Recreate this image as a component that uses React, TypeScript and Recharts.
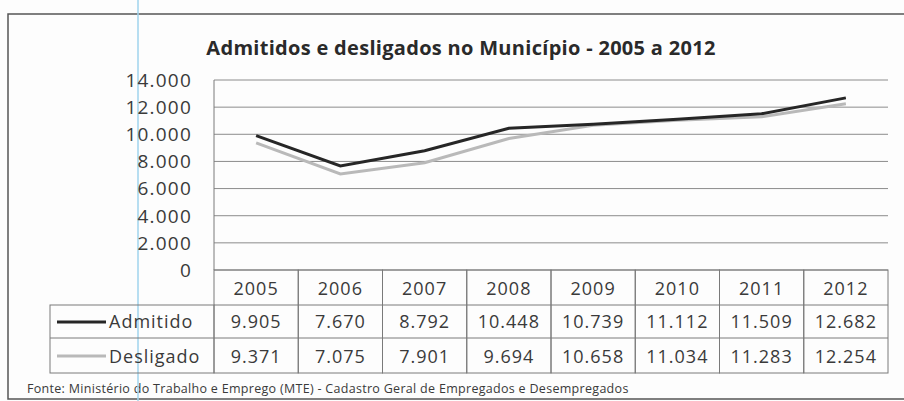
import React from 'react';
import { LineChart, Line, XAxis, YAxis, CartesianGrid } from 'recharts';

const years = ['2005', '2006', '2007', '2008', '2009', '2010', '2011', '2012'];
const admitidos = [9905, 7670, 8792, 10448, 10739, 11112, 11509, 12682];
const desligados = [9371, 7075, 7901, 9694, 10658, 11034, 11283, 12254];
const yTicks = [0, 2000, 4000, 6000, 8000, 10000, 12000, 14000];
const seriesNames = ['Admitido', 'Desligado'];
const title = 'Admitidos e desligados no Município - 2005 a 2012';
const source = 'Fonte: Ministério do Trabalho e Emprego (MTE) - Cadastro Geral de Empregados e Desempregados';

const data = years.map((y, i) => ({ year: y, admitido: admitidos[i], desligado: desligados[i] }));

const W = 904;
const H = 401;
const LEFT = 214;
const RIGHT = 16;
const PLOT_W = W - LEFT - RIGHT;
const COL = PLOT_W / years.length;
const LEGEND_LEFT = 50;

const FONT = '"Open Sans", sans-serif';
const TEXT = '#3a3a3a';
const LINE_A = '#262626';
const LINE_D = '#b9b9b9';
const BORDER = '#7a7a7a';

const fmt = (v: number) => String(v).replace(/\B(?=(\d{3})+(?!\d))/g, '.');

const TableTick = (props: any) => {
  const { x, y, payload, index } = props;
  const i = index as number;
  const left = x - COL / 2;
  const r1 = y + 35;
  const r2 = y + 68;
  const bottom = y + 103;
  const textStyle = { fontFamily: FONT, fontSize: 18, fill: TEXT, letterSpacing: 1 } as any;
  return (
    <g>
      <rect x={left} y={y} width={COL} height={bottom - y} fill="none" stroke={BORDER} strokeWidth={1} />
      <line x1={left} x2={left + COL} y1={r1} y2={r1} stroke={BORDER} strokeWidth={1} />
      <line x1={left} x2={left + COL} y1={r2} y2={r2} stroke={BORDER} strokeWidth={1} />
      <text x={x} y={y + 25} textAnchor="middle" style={textStyle}>{payload.value}</text>
      <text x={x} y={y + 58} textAnchor="middle" style={textStyle}>{fmt(admitidos[i])}</text>
      <text x={x} y={y + 93} textAnchor="middle" style={textStyle}>{fmt(desligados[i])}</text>
      {i === 0 && (
        <g>
          <rect x={LEGEND_LEFT} y={r1} width={left - LEGEND_LEFT} height={bottom - r1} fill="none" stroke={BORDER} strokeWidth={1} />
          <line x1={LEGEND_LEFT} x2={left} y1={r2} y2={r2} stroke={BORDER} strokeWidth={1} />
          <line x1={57} x2={106} y1={y + 52} y2={y + 52} stroke={LINE_A} strokeWidth={3} />
          <line x1={57} x2={106} y1={y + 86} y2={y + 86} stroke={LINE_D} strokeWidth={3} />
          <text x={109} y={y + 58} style={textStyle}>{seriesNames[0]}</text>
          <text x={109} y={y + 93} style={textStyle}>{seriesNames[1]}</text>
        </g>
      )}
    </g>
  );
};

const YTick = (props: any) => {
  const { x, y, payload } = props;
  return (
    <text x={x} y={y} dy="0.36em" textAnchor="end" style={{ fontFamily: FONT, fontSize: 19, fill: TEXT, letterSpacing: 1.2 } as any}>
      {fmt(payload.value)}
    </text>
  );
};

export default function App() {
  return (
    <div style={{ position: 'absolute', left: 0, top: 0, width: W, height: H, background: '#fdfdfd' }}>
      <svg width={W} height={H} style={{ position: 'absolute', left: 0, top: 0 }}>
        <rect x={8} y={14} width={W} height={385} fill="none" stroke="#555" strokeWidth={1.5} />
        <text x={461} y={55} textAnchor="middle" style={{ fontFamily: FONT, fontSize: 20, fontWeight: 700, fill: '#2a2a2a', letterSpacing: 0.3 } as any}>
          {title}
        </text>
        <text x={27} y={393} style={{ fontFamily: FONT, fontSize: 12.5, fill: TEXT, letterSpacing: 0.3 } as any}>{source}</text>
        <line x1={138} x2={138} y1={0} y2={H} stroke="#9fd3ec" strokeWidth={1.5} />
      </svg>
      <div style={{ position: 'absolute', left: 0, top: 0 }}>
        <LineChart width={W} height={H} data={data} margin={{ top: 80, right: RIGHT, left: 0, bottom: 28 }}>
          <CartesianGrid vertical={false} stroke="#8c8c8c" strokeWidth={1} />
          <XAxis
            dataKey="year"
            height={103}
            axisLine={false}
            tickLine={false}
            tickSize={0}
            tickMargin={0}
            interval={0}
            padding={{ left: COL / 2, right: COL / 2 }}
            tick={<TableTick />}
          />
          <YAxis
            width={LEFT}
            domain={[0, 14000]}
            ticks={yTicks}
            interval={0}
            axisLine={{ stroke: BORDER, strokeWidth: 1 }}
            tickLine={false}
            tickSize={0}
            tickMargin={22}
            tick={<YTick />}
          />
          <Line dataKey="desligado" name={seriesNames[1]} stroke={LINE_D} strokeWidth={3} dot={false} isAnimationActive={false} />
          <Line dataKey="admitido" name={seriesNames[0]} stroke={LINE_A} strokeWidth={3} dot={false} isAnimationActive={false} />
        </LineChart>
      </div>
    </div>
  );
}
